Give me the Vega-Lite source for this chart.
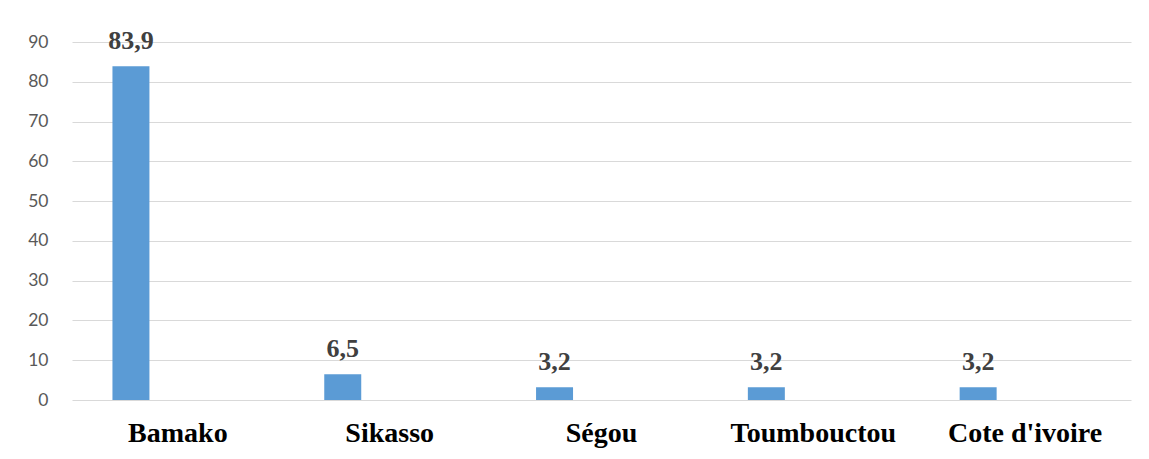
{
  "$schema": "https://vega.github.io/schema/vega-lite/v6.json",
  "width": 1059,
  "height": 358,
  "autosize": {"type": "none"},
  "padding": {"left": 72, "top": 42, "right": 18, "bottom": 59},
  "background": "white",
  "config": {
    "view": {"stroke": null},
    "locale": {
      "number": {"decimal": ",", "thousands": " ", "grouping": [3], "currency": ["", " €"]}
    }
  },
  "data": {
    "values": [
      {"region": "Bamako", "serie": "Pourcentage", "pourcentage": 83.9},
      {"region": "Sikasso", "serie": "Pourcentage", "pourcentage": 6.5},
      {"region": "Ségou", "serie": "Pourcentage", "pourcentage": 3.2},
      {"region": "Toumbouctou", "serie": "Pourcentage", "pourcentage": 3.2},
      {"region": "Cote d'ivoire", "serie": "Pourcentage", "pourcentage": 3.2}
    ]
  },
  "encoding": {
    "x": {
      "field": "region",
      "type": "nominal",
      "sort": null,
      "scale": {"paddingInner": 0, "paddingOuter": 0},
      "axis": {
        "title": null,
        "labelAngle": 0,
        "labelFont": "Liberation Serif",
        "labelFontWeight": "bold",
        "labelFontSize": 28,
        "labelColor": "#000000",
        "labelBaseline": "alphabetic",
        "labelPadding": 41,
        "labelLimit": 400,
        "ticks": false,
        "tickSize": 0,
        "domain": false,
        "grid": false
      }
    },
    "xOffset": {
      "field": "serie",
      "type": "nominal",
      "scale": {"paddingInner": 0.5768, "paddingOuter": 1, "align": 0.2314}
    },
    "y": {
      "field": "pourcentage",
      "type": "quantitative",
      "scale": {"domain": [0, 90], "nice": false},
      "axis": {
        "title": null,
        "values": [0, 10, 20, 30, 40, 50, 60, 70, 80, 90],
        "domain": false,
        "ticks": false,
        "tickSize": 0,
        "labelPadding": 24,
        "labelFont": "Lato",
        "labelFontSize": 17.5,
        "labelColor": "#595959",
        "gridColor": "#D9D9D9",
        "gridWidth": 1.2
      }
    }
  },
  "layer": [
    {"mark": {"type": "bar", "color": "#5B9BD5"}},
    {
      "mark": {
        "type": "text",
        "font": "Liberation Serif",
        "fontWeight": "bold",
        "fontSize": 26,
        "color": "#404040",
        "baseline": "alphabetic",
        "align": "center",
        "dy": -17
      },
      "encoding": {"text": {"field": "pourcentage", "type": "quantitative", "format": ".1f"}}
    }
  ]
}
